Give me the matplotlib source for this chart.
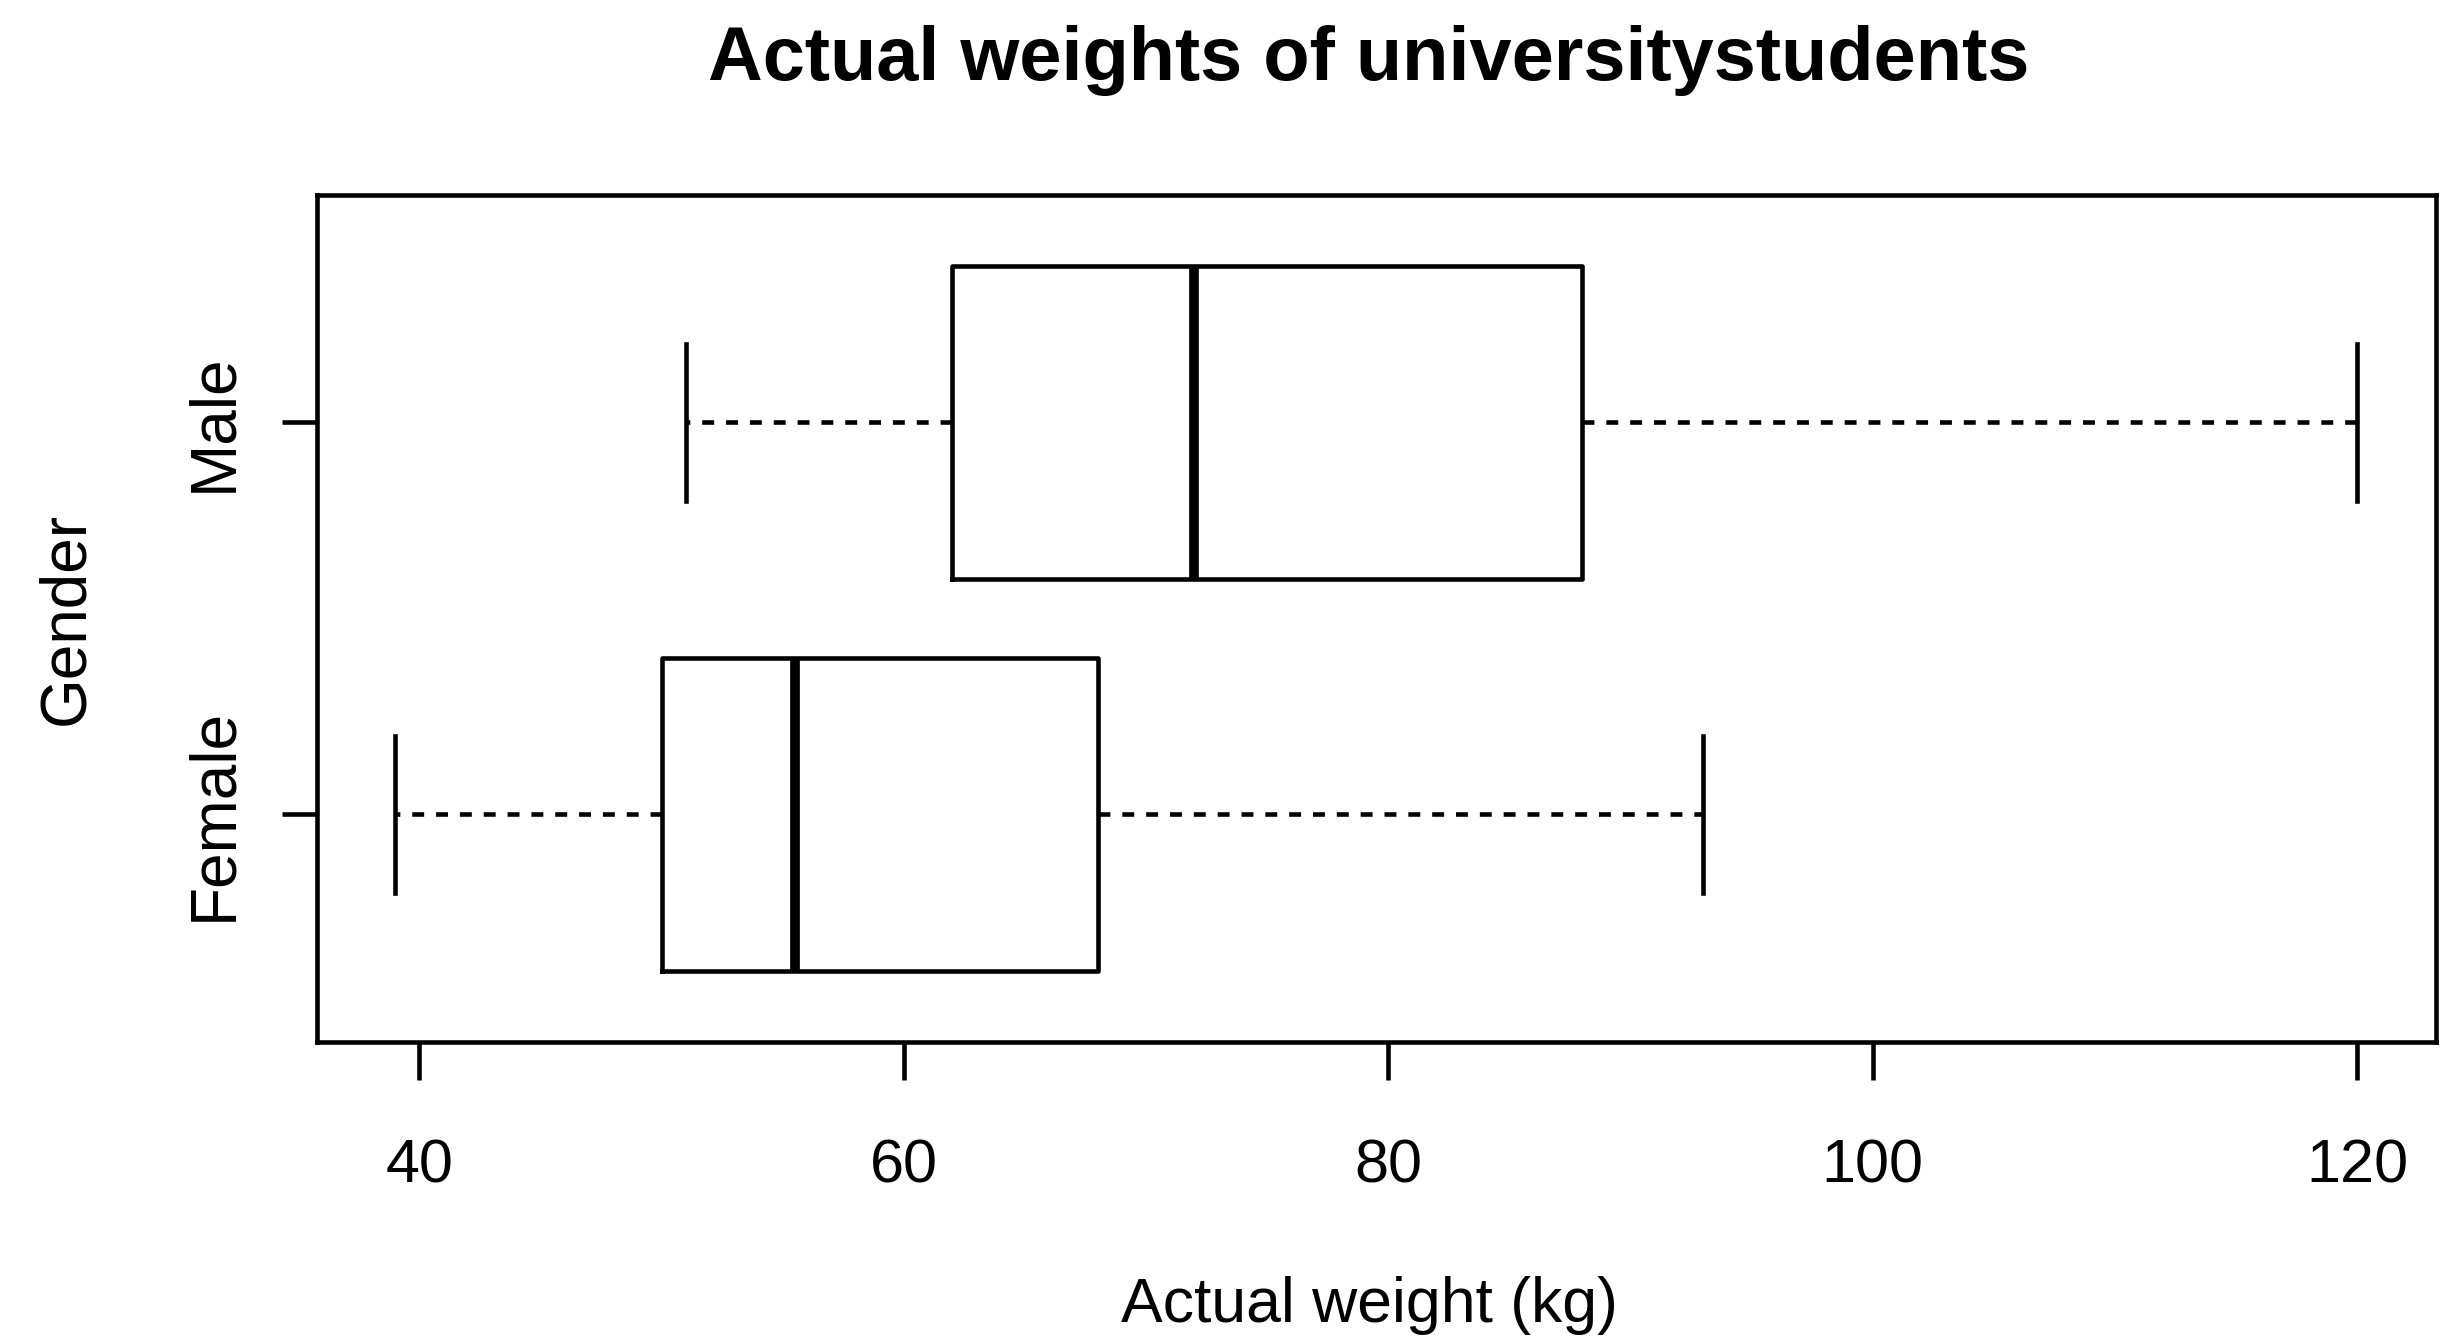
import matplotlib
matplotlib.use("Agg")
import matplotlib.pyplot as plt

plt.rcParams['font.family'] = ['Liberation Sans', 'DejaVu Sans']

# data (kg)
groups = ["Female", "Male"]
whisker_lo = [39, 51]
q1 = [50, 62]
median = [55.5, 72]
q3 = [68, 88]
whisker_hi = [93, 120]
x_ticks = [40, 60, 80, 100, 120]

stats = []
for i, g in enumerate(groups):
    stats.append({"label": g, "whislo": whisker_lo[i], "q1": q1[i], "med": median[i],
                  "q3": q3[i], "whishi": whisker_hi[i], "fliers": []})

fig = plt.figure(figsize=(24.45, 13.43), dpi=100)
ax = fig.add_axes([0.1295, 0.2244, 0.8667, 0.6304])

lw = 3.3
ax.bxp(stats, positions=[1, 2], widths=0.8, vert=False, showfliers=False,
       capwidths=0.4,
       boxprops=dict(color="black", linewidth=lw),
       medianprops=dict(color="black", linewidth=7, solid_capstyle="butt"),
       whiskerprops=dict(color="black", linewidth=lw, linestyle=(0, (2.6, 2.6))),
       capprops=dict(color="black", linewidth=lw))

ax.set_xlim(35.76, 123.24)
ax.set_ylim(0.42, 2.58)
ax.set_xticks(x_ticks)
ax.set_xticklabels([str(t) for t in x_ticks])
ax.set_yticks([1, 2])
ax.set_yticklabels(groups, rotation=90, va="center", fontsize=46)

for s in ax.spines.values():
    s.set_linewidth(lw)
ax.tick_params(axis="x", length=27, width=lw, pad=43, labelsize=44)
ax.tick_params(axis="y", length=25, width=lw, pad=27)

fig.text(0.5599, 0.955, "Actual weights of universitystudents", ha="center", va="center",
         fontsize=54.5, fontweight="bold")
fig.text(0.5599, 0.028, "Actual weight (kg)", ha="center", va="center", fontsize=45)
fig.text(0.027, 0.5396, "Gender", ha="center", va="center", rotation=90, fontsize=46)

fig.savefig("out.png", dpi=100)
